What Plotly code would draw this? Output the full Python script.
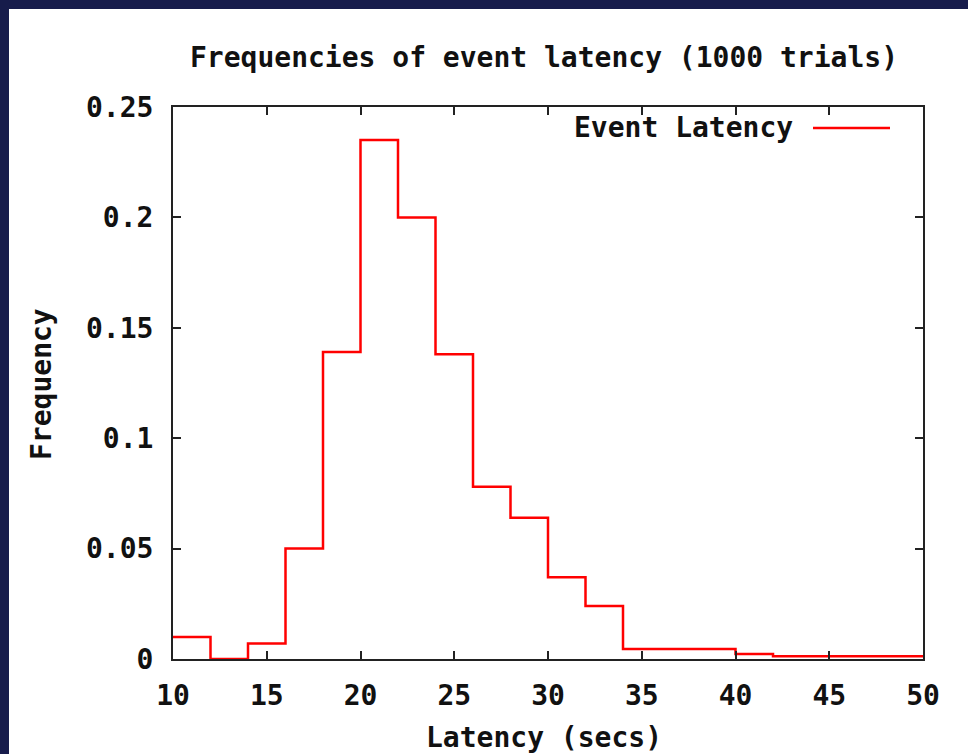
import plotly.graph_objects as go

# Data: histogram of latency (bin left edges, width 2)
bin_edges = [10, 12, 14, 16, 18, 20, 22, 24, 26, 28, 30, 32, 34, 36, 38, 40, 42, 44, 46, 48, 50]
frequencies = [0.010, 0.000, 0.007, 0.050, 0.139, 0.235, 0.200, 0.138, 0.078, 0.064,
               0.037, 0.024, 0.0045, 0.0045, 0.0045, 0.0023, 0.0012, 0.0012, 0.0012, 0.0012]
x_ticks = [10, 15, 20, 25, 30, 35, 40, 45, 50]
y_ticks = [0, 0.05, 0.1, 0.15, 0.2, 0.25]
y_tick_labels = ["0", "0.05", "0.1", "0.15", "0.2", "0.25"]

title_text = "Frequencies of event latency (1000 trials)"
x_title = "Latency (secs)"
y_title = "Frequency"
series_name = "Event Latency"

W, H = 968, 754
L, R, T, B = 173, 45, 107, 95
pw, ph = W - L - R, H - T - B

def px(x):
    return (x - L) / pw

def py(y):
    return (H - B - y) / ph

FONT = "DejaVu Sans Mono"
FS = 28
NAVY = "#171c4b"

# step line: repeat last value at right edge
ys = frequencies + [frequencies[-1]]

fig = go.Figure()
fig.add_trace(go.Scatter(
    x=bin_edges, y=ys, mode="lines", line=dict(shape="hv", color="#ff0000", width=2.5),
    name=series_name, showlegend=False, cliponaxis=True,
))

axis_common = dict(
    showgrid=False, zeroline=False, showline=True, linecolor="#222222", linewidth=2,
    mirror="allticks", ticks="inside", ticklen=8, tickwidth=2, tickcolor="#222222",
    layer="above traces",
    tickfont=dict(family=FONT, size=FS, color="#111111", weight="bold"),
)

fig.update_layout(
    width=W, height=H,
    margin=dict(l=L, r=R, t=T, b=B, pad=0),
    paper_bgcolor=NAVY, plot_bgcolor="white",
    xaxis=dict(range=[10, 50], tickvals=x_ticks, ticklabelstandoff=10, **axis_common),
    yaxis=dict(range=[0, 0.25], tickvals=y_ticks, ticktext=y_tick_labels,
               ticklabelstandoff=12, **axis_common),
    shapes=[
        dict(type="rect", xref="paper", yref="paper", layer="below",
             x0=px(9), x1=px(W + 5), y0=py(H + 5), y1=py(9),
             fillcolor="white", line=dict(width=0)),
        dict(type="line", xref="paper", yref="paper",
             x0=px(813), x1=px(890), y0=py(128), y1=py(128),
             line=dict(color="#ff0000", width=2.5)),
    ],
    annotations=[
        dict(text=title_text, xref="paper", yref="paper", x=px(544), y=py(58),
             xanchor="center", yanchor="middle", showarrow=False,
             font=dict(family=FONT, size=FS, color="#111111", weight="bold")),
        dict(text=x_title, xref="paper", yref="paper", x=px(544), y=py(737),
             xanchor="center", yanchor="middle", showarrow=False,
             font=dict(family=FONT, size=FS, color="#111111", weight="bold")),
        dict(text=y_title, xref="paper", yref="paper", x=px(41), y=py(384),
             xanchor="center", yanchor="middle", showarrow=False, textangle=-90,
             font=dict(family=FONT, size=FS, color="#111111", weight="bold")),
        dict(text=series_name, xref="paper", yref="paper", x=px(795), y=py(128),
             xanchor="right", yanchor="middle", showarrow=False,
             font=dict(family=FONT, size=FS, color="#111111", weight="bold")),
    ],
)

fig.write_html("out.html")
